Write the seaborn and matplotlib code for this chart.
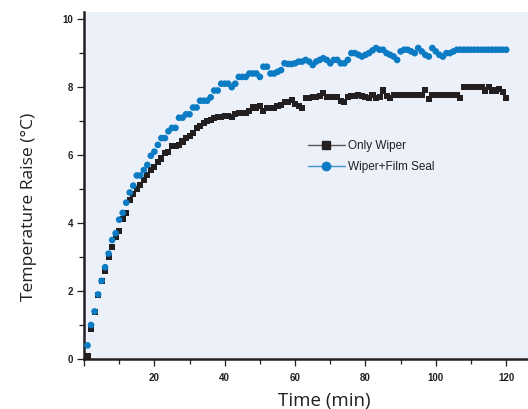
import matplotlib
matplotlib.use("Agg")
import matplotlib.pyplot as plt
from matplotlib import font_manager
from matplotlib.lines import Line2D
from matplotlib.ticker import FixedLocator, MultipleLocator
import seaborn as sns
import pandas as pd

# Sampling times (min)
time_min = list(range(1, 121))

# Temperature rise (deg C), wiper only
only_wiper = [
    0.08, 0.88, 1.39, 1.88, 2.30, 2.59, 3.00, 3.29, 3.58, 3.78, 4.12, 4.30,
    4.68, 4.85, 5.00, 5.12, 5.28, 5.42, 5.55, 5.65, 5.80, 5.90, 6.05, 6.10,
    6.27, 6.27, 6.30, 6.40, 6.50, 6.55, 6.64, 6.79, 6.85, 6.94, 7.00, 7.04,
    7.10, 7.13, 7.13, 7.16, 7.16, 7.13, 7.20, 7.23, 7.23, 7.25, 7.30, 7.40,
    7.40, 7.45, 7.30, 7.38, 7.38, 7.38, 7.45, 7.48, 7.55, 7.57, 7.62, 7.50,
    7.45, 7.38, 7.67, 7.67, 7.72, 7.72, 7.75, 7.82, 7.72, 7.72, 7.72, 7.72,
    7.60, 7.57, 7.72, 7.75, 7.75, 7.77, 7.75, 7.72, 7.67, 7.77, 7.67, 7.72,
    7.90, 7.75, 7.67, 7.77, 7.77, 7.77, 7.77, 7.77, 7.77, 7.77, 7.77, 7.77,
    7.92, 7.65, 7.77, 7.77, 7.77, 7.77, 7.77, 7.77, 7.77, 7.77, 7.67, 8.00,
    8.00, 8.00, 8.00, 8.00, 8.00, 7.90, 8.00, 7.90, 7.90, 7.95, 7.85, 7.67,
]

# Temperature rise (deg C), wiper + film seal
wiper_film = [
    0.40, 1.00, 1.40, 1.90, 2.30, 2.70, 3.10, 3.50, 3.70, 4.10, 4.30, 4.60,
    4.90, 5.10, 5.40, 5.40, 5.56, 5.71, 5.98, 6.10, 6.30, 6.50, 6.50, 6.70,
    6.80, 6.80, 7.10, 7.10, 7.20, 7.20, 7.40, 7.40, 7.60, 7.60, 7.60, 7.70,
    7.90, 7.90, 8.10, 8.10, 8.10, 8.00, 8.10, 8.30, 8.30, 8.30, 8.40, 8.40,
    8.40, 8.30, 8.60, 8.60, 8.40, 8.40, 8.45, 8.50, 8.70, 8.68, 8.68, 8.70,
    8.75, 8.75, 8.80, 8.75, 8.65, 8.75, 8.80, 8.85, 8.80, 8.70, 8.80, 8.80,
    8.70, 8.70, 8.80, 9.00, 9.00, 8.95, 8.90, 8.95, 9.00, 9.08, 9.15, 9.10,
    9.10, 9.00, 8.95, 8.90, 8.80, 9.05, 9.10, 9.10, 9.05, 9.00, 9.15, 9.05,
    8.95, 8.90, 9.15, 9.05, 8.95, 8.90, 9.00, 9.00, 9.05, 9.10, 9.10, 9.10,
    9.10, 9.10, 9.10, 9.10, 9.10, 9.10, 9.10, 9.10, 9.10, 9.10, 9.10, 9.10,
]

series_names = ["Only Wiper", "Wiper+Film Seal"]
x_ticks = [0, 20, 40, 60, 80, 100, 120]
x_tick_labels = ["", "20", "40", "60", "80", "100", "120"]
y_ticks = [0, 2, 4, 6, 8, 10]
y_tick_labels = ["0", "2", "4", "6", "8", "10"]

INK = "#231F20"
BLUE = "#0B7BC4"
BG = "#ECF0F9"


def liberation(weight):
    """Pick the regular-width Liberation Sans file (not the Narrow cut)."""
    for f in font_manager.fontManager.ttflist:
        if f.name == "Liberation Sans" and f.style == "normal" and f.weight == weight:
            return font_manager.FontProperties(fname=f.fname)
    return font_manager.FontProperties(family="DejaVu Sans", weight=weight)


df = pd.DataFrame({
    "time": time_min * 2,
    "temp": only_wiper + wiper_film,
    "series": [series_names[0]] * len(time_min) + [series_names[1]] * len(time_min),
})

sns.set_style("white")
fig = plt.figure(figsize=(5.28, 4.09), dpi=100)
ax = fig.add_axes([84 / 528, 50 / 409, 1 - 84 / 528, 347 / 409])
ax.set_facecolor(BG)

sns.scatterplot(
    data=df[df.series == series_names[0]], x="time", y="temp",
    marker="s", s=19, color=INK, edgecolor="none", linewidth=0,
    ax=ax, legend=False, zorder=3,
)
sns.scatterplot(
    data=df[df.series == series_names[1]], x="time", y="temp",
    marker="o", s=23, color=BLUE, edgecolor="none", linewidth=0,
    ax=ax, legend=False, zorder=4,
)

ax.set_xlim(0, 126.2)
ax.set_ylim(0, 10.21)

for side in ("top", "right"):
    ax.spines[side].set_visible(False)
for side in ("left", "bottom"):
    ax.spines[side].set_color(INK)
    ax.spines[side].set_linewidth(1.8)

ax.xaxis.set_major_locator(FixedLocator(x_ticks))
ax.set_xticklabels(x_tick_labels)
ax.xaxis.set_minor_locator(MultipleLocator(10))
ax.yaxis.set_major_locator(FixedLocator(y_ticks))
ax.set_yticklabels(y_tick_labels)
ax.yaxis.set_minor_locator(MultipleLocator(1))

tick_font = liberation(700)
tick_font.set_size(7)
for lab in ax.get_xticklabels() + ax.get_yticklabels():
    lab.set_fontproperties(tick_font)
    lab.set_color(INK)

ax.tick_params(axis="both", which="major", direction="out", length=5,
               width=0.9, color=INK)
ax.tick_params(axis="both", which="minor", direction="out", length=3.5,
               width=0.9, color=INK)
ax.tick_params(axis="x", which="major", pad=5, bottom=True)
ax.tick_params(axis="x", which="minor", bottom=True)
ax.tick_params(axis="y", which="major", pad=3, left=True)
ax.tick_params(axis="y", which="minor", left=True)

ax.set_xlabel("Time (min)", family="Open Sans", size=13.5, color=INK)
ax.set_ylabel("Temperature Raise (\u00b0C)", family="Open Sans", size=12.6, color=INK)
ax.xaxis.set_label_coords((324 - 84) / 444, -33 / 347)
ax.yaxis.set_label_coords(-47 / 444, (359 - 207) / 347)

handles = [
    Line2D([0], [0], color="#5A5657", lw=1.0, marker="s", markersize=5.5,
           markerfacecolor=INK, markeredgecolor=INK),
    Line2D([0], [0], color="#3D95D0", lw=1.0, marker="o", markersize=6,
           markerfacecolor=BLUE, markeredgecolor=BLUE),
]
legend_font = liberation(400)
legend_font.set_size(8.5)
leg = ax.legend(
    handles, series_names, loc="upper left",
    bbox_to_anchor=(308 / 528, (409 - 140) / 409), bbox_transform=fig.transFigure,
    frameon=False, handlelength=3.1, handletextpad=0.3, labelspacing=0.75,
    borderpad=0, borderaxespad=0, prop=legend_font,
)
for t in leg.get_texts():
    t.set_color(INK)

fig.savefig("out.png", dpi=100, facecolor="white")
